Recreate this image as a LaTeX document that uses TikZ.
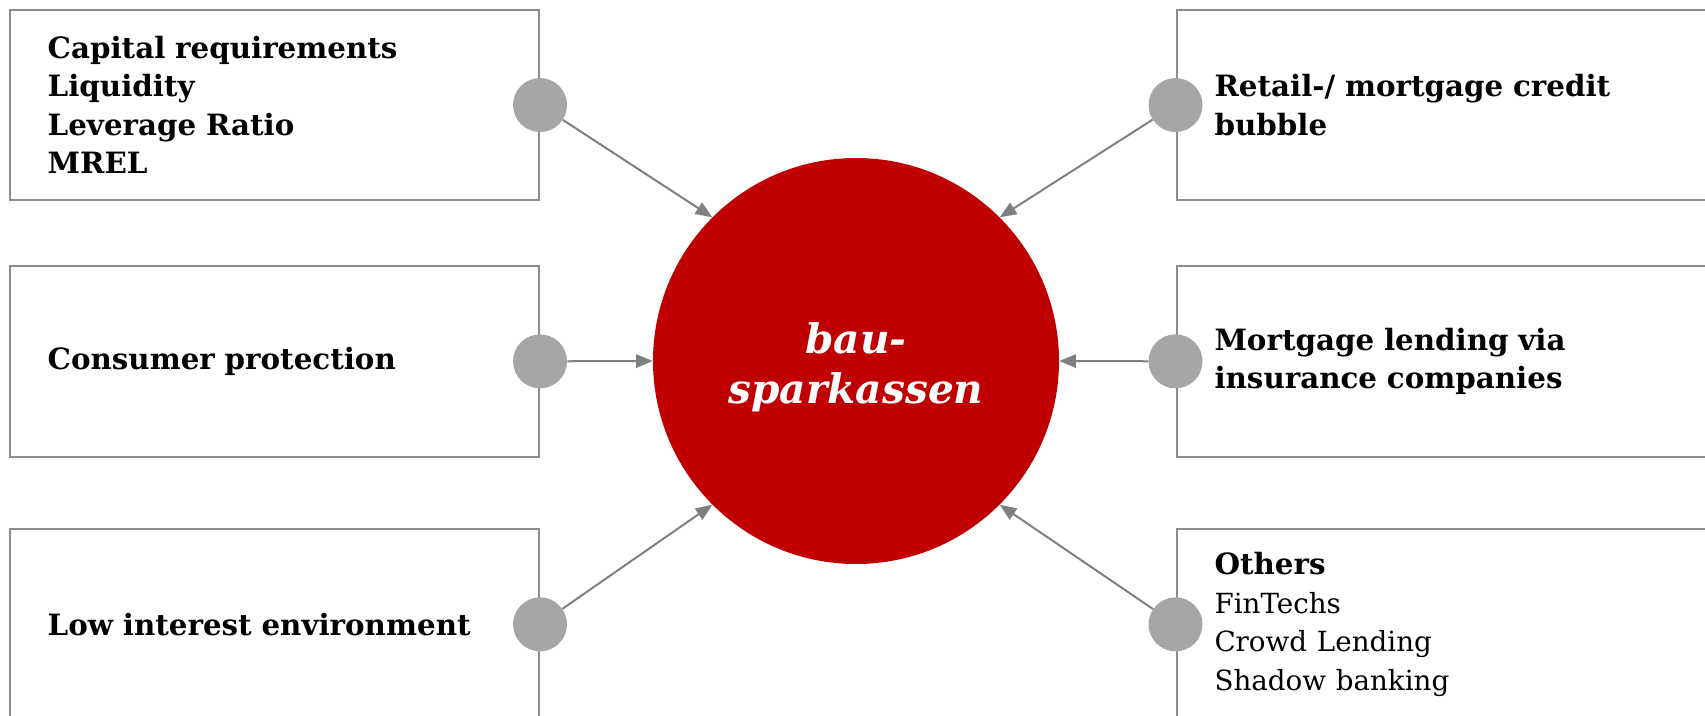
\documentclass[tikz,border=0pt]{standalone}
\usepackage{fontspec}
\setmainfont{DejaVu Serif}
\usepackage{tikz}
\usetikzlibrary{arrows.meta, positioning}

\definecolor{boxgray}{RGB}{140,140,140}
\definecolor{linkgray}{RGB}{128,128,128}
\definecolor{dotgray}{RGB}{166,166,166}
\definecolor{corered}{RGB}{192,0,0}
\newcommand{\factorfont}{\fontsize{22}{28.9}\selectfont}
\newcommand{\plainfont}{\fontsize{20.8}{28.9}\selectfont}
\newcommand{\corefont}{\fontsize{30.5}{37.5}\selectfont\bfseries\itshape}

\begin{document}
\begin{tikzpicture}[x=0.75pt,y=0.75pt,yscale=-1,xscale=1,
  factor/.style={draw=boxgray, line width=1.5pt, rectangle, anchor=north west, minimum width=397pt, minimum height=143pt, text width=340pt, inner xsep=28.5pt, align=left, font=\factorfont},
  pin/.style={circle, fill=dotgray, minimum size=40.5pt, inner sep=0pt},
  link/.style={draw=linkgray, line width=1.5pt, -{Triangle[length=12.5pt,width=10pt]}},
  core/.style={circle, fill=corered, minimum size=304.5pt, inner sep=0pt, text=white, align=center, font=\corefont}]
\useasboundingbox (0,0) rectangle (1705,715);
\clip (0,0) rectangle (1705,715);

% Center
\node [core] (core) at (856,361) {\raisebox{-5pt}[\height][\depth]{bau-}\\\raisebox{-5pt}[\height][\depth]{sparkassen}};

% Left boxes
\node [factor] (capital) at (8.7,8.7) {\bfseries Capital requirements\\Liquidity\\Leverage Ratio\\MREL};
\node [factor] (consumer) at (8.7,265) {\bfseries Consumer protection};
\node [factor] (interest) at (8.7,528) {\bfseries Low interest environment};

% Right boxes
\node [factor] (bubble) at (1175.5,8.7) {\bfseries Retail-/ mortgage credit\\bubble};
\node [factor] (insurance) at (1175.5,265) {\bfseries Mortgage lending via\\insurance companies};
\node [factor] (others) at (1175.5,528) {\textbf{Others}\\\plainfont FinTechs\\Crowd Lending\\Shadow banking};

% Pins
\node [pin] (pcapital) at (capital.east) {};
\node [pin] (pconsumer) at (consumer.east) {};
\node [pin] (pinterest) at (interest.east) {};
\node [pin] (pbubble) at (bubble.west) {};
\node [pin] (pinsurance) at (insurance.west) {};
\node [pin] (pothers) at (others.west) {};

% Arrows
\draw [link] (pcapital) -- (core.north west);
\draw [link] (pconsumer) -- (core.west);
\draw [link] (pinterest) -- (core.south west);
\draw [link] (pbubble) -- (core.north east);
\draw [link] (pinsurance) -- (core.east);
\draw [link] (pothers) -- (core.south east);

\end{tikzpicture}
\end{document}
